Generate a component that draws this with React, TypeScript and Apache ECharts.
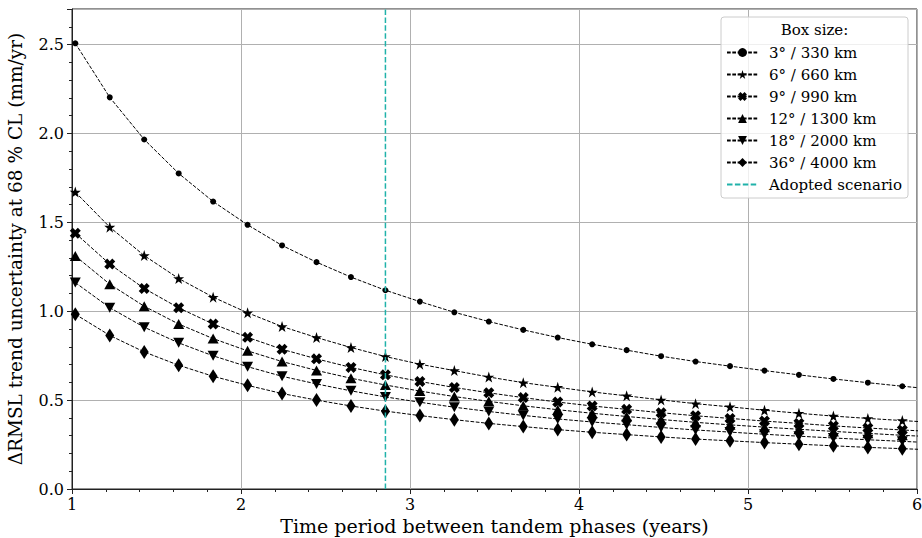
import React, { useEffect, useRef } from "react";
import * as echarts from "echarts";

// Time period between tandem phases (years)
const xValues = [
  1.0195, 1.2234, 1.4273, 1.6312, 1.8351, 2.039, 2.2429, 2.4468, 2.6507, 2.8546,
  3.0585, 3.2624, 3.4663, 3.6702, 3.8741, 4.078, 4.2819, 4.4858, 4.6897, 4.8936,
  5.0975, 5.3014, 5.5053, 5.7092, 5.9131, 6.117,
];

const box3 = [2.507, 2.203, 1.966, 1.775, 1.617, 1.486, 1.37, 1.276, 1.192, 1.118, 1.054, 0.994, 0.942, 0.895, 0.852, 0.814, 0.781, 0.747, 0.717, 0.691, 0.666, 0.642, 0.619, 0.598, 0.578, 0.56];
const box6 = [1.67, 1.473, 1.313, 1.184, 1.079, 0.991, 0.914, 0.852, 0.796, 0.745, 0.702, 0.666, 0.63, 0.598, 0.572, 0.546, 0.524, 0.501, 0.48, 0.462, 0.443, 0.426, 0.41, 0.397, 0.385, 0.373];
const box9 = [1.439, 1.265, 1.128, 1.019, 0.928, 0.853, 0.786, 0.732, 0.684, 0.642, 0.605, 0.571, 0.541, 0.514, 0.489, 0.467, 0.448, 0.429, 0.412, 0.397, 0.382, 0.369, 0.355, 0.343, 0.332, 0.322];
const box12 = [1.311, 1.152, 1.028, 0.928, 0.846, 0.777, 0.717, 0.667, 0.623, 0.585, 0.551, 0.52, 0.493, 0.468, 0.446, 0.426, 0.408, 0.391, 0.375, 0.361, 0.348, 0.336, 0.324, 0.313, 0.302, 0.293];
const box18 = [1.161, 1.02, 0.91, 0.822, 0.749, 0.688, 0.634, 0.591, 0.552, 0.518, 0.488, 0.46, 0.436, 0.414, 0.394, 0.377, 0.362, 0.346, 0.332, 0.32, 0.308, 0.297, 0.287, 0.277, 0.268, 0.259];
const box36 = [0.983, 0.864, 0.771, 0.696, 0.634, 0.583, 0.537, 0.5, 0.467, 0.438, 0.413, 0.39, 0.369, 0.351, 0.334, 0.319, 0.306, 0.293, 0.281, 0.271, 0.261, 0.252, 0.243, 0.234, 0.227, 0.219];

const seriesNames = ["3° / 330 km", "6° / 660 km", "9° / 990 km", "12° / 1300 km", "18° / 2000 km", "36° / 4000 km"];
const adoptedName = "Adopted scenario";
const adoptedX = 2.8546;
const yRange = [0, 2.7];

const STAR = "path://M50,0 L61.8,35.1 L98.9,35.1 L68.9,56.7 L80.2,91.6 L50,70 L19.8,91.6 L31.1,56.7 L1.1,35.1 L38.2,35.1 Z";
const XMARK = "path://M0,27 L27,0 L50,23 L73,0 L100,27 L77,50 L100,73 L73,100 L50,77 L27,100 L0,73 L23,50 Z";

const FONT = "DejaVu Serif";

export default function App() {
  const ref = useRef<HTMLDivElement>(null);
  useEffect(() => {
    if (!ref.current) return;
    const chart = echarts.init(ref.current, undefined, { renderer: "svg" });
    const valuesList = [box3, box6, box9, box12, box18, box36];
    const markers: any[] = [
      { symbol: "circle", symbolSize: 6, symbolRotate: 0 },
      { symbol: STAR, symbolSize: 11, symbolRotate: 0 },
      { symbol: XMARK, symbolSize: 11, symbolRotate: 0 },
      { symbol: "triangle", symbolSize: [11, 10], symbolRotate: 0 },
      { symbol: "triangle", symbolSize: [11, 10], symbolRotate: 180 },
      { symbol: "diamond", symbolSize: [9, 14], symbolRotate: 0 },
    ];
    const lineSeries = valuesList.map((vals, i) => ({
      name: seriesNames[i],
      type: "line",
      data: vals.map((v, k) => [xValues[k], v]),
      symbol: markers[i].symbol,
      symbolSize: markers[i].symbolSize,
      symbolRotate: markers[i].symbolRotate,
      showAllSymbol: true,
      clip: true,
      itemStyle: { color: "#000" },
      lineStyle: { color: "#000", width: 1, type: [3.7, 1.6] },
      z: 3,
    }));
    const option: any = {
      animation: false,
      backgroundColor: "#fff",
      textStyle: { fontFamily: FONT },
      grid: {
        left: 72,
        right: 5,
        top: 9,
        bottom: 49,
        show: true,
        borderColor: "#222",
        borderWidth: 1,
        containLabel: false,
        outerBoundsMode: "none",
      },
      xAxis: {
        type: "value",
        min: 1,
        max: 6,
        interval: 1,
        name: "Time period between tandem phases (years)",
        nameLocation: "middle",
        nameGap: 25,
        nameTextStyle: { fontFamily: FONT, fontSize: 19, color: "#000" },
        axisLine: { show: true, lineStyle: { color: "#222", width: 1 } },
        axisTick: { show: true, length: 5, lineStyle: { color: "#222" } },
        minorTick: { show: true, splitNumber: 5, length: 3, lineStyle: { color: "#222" } },
        axisLabel: { fontFamily: FONT, fontSize: 16, color: "#000", margin: 7 },
        splitLine: { show: true, lineStyle: { color: "#b0b0b0", width: 1 } },
      },
      yAxis: {
        type: "value",
        min: yRange[0],
        max: yRange[1],
        interval: 0.5,
        name: "ΔRMSL trend uncertainty at 68 % CL (mm/yr)",
        nameLocation: "middle",
        nameRotate: 90,
        nameGap: 47,
        nameTextStyle: { fontFamily: FONT, fontSize: 18.5, color: "#000" },
        axisLine: { show: true, lineStyle: { color: "#222", width: 1 } },
        axisTick: { show: true, length: 5, lineStyle: { color: "#222" } },
        minorTick: { show: true, splitNumber: 5, length: 3, lineStyle: { color: "#222" } },
        axisLabel: {
          fontFamily: FONT,
          fontSize: 16,
          color: "#000",
          margin: 8,
          showMaxLabel: false,
          formatter: (v: number) => (Math.abs(v * 2 - Math.round(v * 2)) < 1e-6 ? v.toFixed(1) : ""),
        },
        splitLine: { show: true, lineStyle: { color: "#b0b0b0", width: 1 } },
      },
      legend: {
        orient: "vertical",
        left: 726,
        top: 45,
        itemWidth: 31,
        itemHeight: 11,
        itemGap: 7,
        padding: 0,
        z: 10,
        data: [
          ...seriesNames,
          { name: adoptedName, itemStyle: { opacity: 0 } },
        ],
        textStyle: { fontFamily: FONT, fontSize: 15, color: "#000", padding: [0, 0, 0, 6] },
      },
      graphic: [
        {
          type: "rect",
          z: 8,
          shape: { x: 721, y: 17, width: 187, height: 181, r: 3 },
          style: { fill: "rgba(255,255,255,0.8)", stroke: "#cccccc", lineWidth: 1 },
        },
        {
          type: "text",
          z: 11,
          x: 814.5,
          y: 30,
          style: {
            text: "Box size:",
            fontFamily: FONT,
            fontSize: 15,
            fill: "#000",
            align: "center",
            verticalAlign: "middle",
          },
        },
      ],
      series: [
        ...lineSeries,
        {
          name: adoptedName,
          type: "line",
          data: [
            [adoptedX, yRange[0]],
            [adoptedX, yRange[1]],
          ],
          symbol: "none",
          itemStyle: { color: "#20b2aa" },
          lineStyle: { color: "#20b2aa", width: 1.5, type: [5.5, 2.4] },
          z: 4,
        },
      ],
    };
    chart.setOption(option);
    return () => chart.dispose();
  }, []);
  return <div ref={ref} style={{ width: 922, height: 538, position: "absolute", left: 0, top: 0 }} />;
}
